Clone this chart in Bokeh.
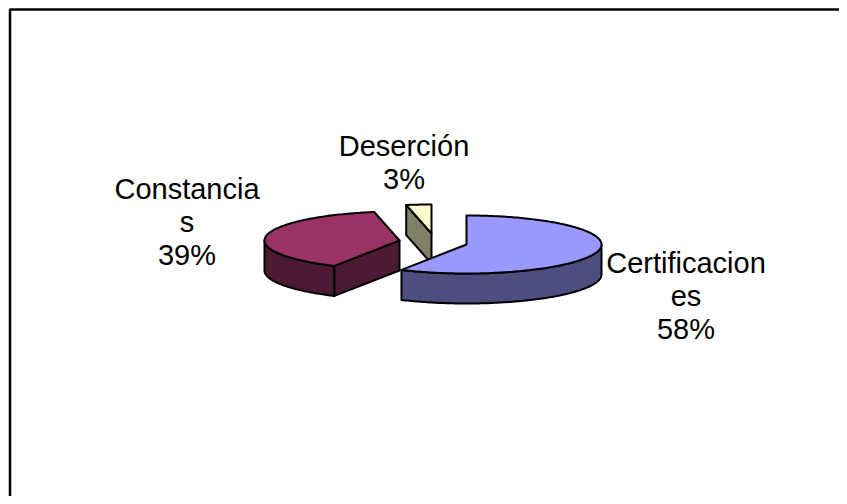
import numpy as np
from bokeh.plotting import figure
from bokeh.models import Range1d
from bokeh.core.properties import value
from bokeh.embed import file_html
from bokeh.resources import INLINE

categories = ["Certificaciones", "Constancias", "Deserción"]
values = [58, 39, 3]
label_lines = [["Certificacion", "es", "58%"], ["Constancia", "s", "39%"], ["Deserción", "3%"]]
top_colors = ["#9999FF", "#993366", "#FFFFCC"]
side_colors = ["#4D4D80", "#4D1A33", "#808066"]

# layout (screen pixels)
centers = [(466, 244), (399, 240), (431, 233)]
label_pos = [(685.5, 262), (186.5, 188), (403.5, 145)]
RX, RY, DEPTH = 135, 29, 30
LINE_GAP = 33

W, H = 839, 496
p = figure(width=W, height=H, x_range=Range1d(0, W), y_range=Range1d(H, 0),
           output_backend="svg", toolbar_location=None, min_border=0,
           outline_line_color=None, background_fill_color="white", border_fill_color="white")
p.axis.visible = False
p.grid.visible = False


def pt(c, deg):
    t = np.radians(deg)
    return c[0] + RX * np.sin(t), c[1] - RY * np.cos(t)


def arc(c, a, b):
    n = max(2, int(abs(b - a)) + 2)
    ds = np.linspace(a, b, n)
    return [pt(c, d) for d in ds]


def draw(xy, fill):
    xs, ys = zip(*xy)
    p.patch(list(xs), list(ys), fill_color=fill, line_color="black", line_width=2, line_join="round")


totals = sum(values)
start = 0.0
slices = []
for v in values:
    end = start + 360.0 * v / totals
    slices.append((start, end))
    start = end

for i in [1, 2, 0]:
    a, b = slices[i]
    c = centers[i]
    # outer rim visible in front half
    lo, hi = max(a, 90), min(b, 270)
    if hi > lo:
        rim = arc(c, lo, hi)
        draw(rim + [(x, y + DEPTH) for x, y in reversed(rim)], side_colors[i])
    # cut face at the slice start
    if np.sin(np.radians(a)) < 0:
        e = pt(c, a)
        draw([c, e, (e[0], e[1] + DEPTH), (c[0], c[1] + DEPTH)], side_colors[i])
    # top
    draw([c] + arc(c, a, b), top_colors[i])

# labels
for lines, (lx, ly) in zip(label_lines, label_pos):
    for k, t in enumerate(lines):
        p.text([lx], [ly + k * LINE_GAP], text=[t], text_align="center",
               text_baseline="alphabetic", text_font=value("Liberation Sans"),
               text_font_size="29px", text_color="black")

# chart frame: top and left edges only
p.line([9.5, 9.5, W], [H, 9, 9], line_color="black", line_width=2.5)

open("out.html", "w").write(file_html(p, INLINE))
